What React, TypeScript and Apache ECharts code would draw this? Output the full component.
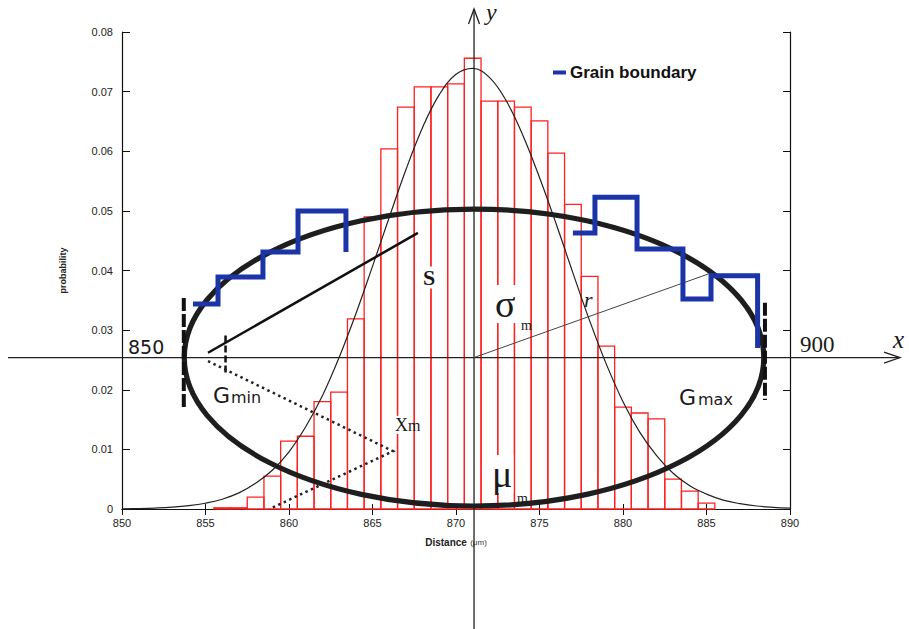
import React, { useEffect, useRef } from 'react';
import * as echarts from 'echarts';

// Axis ranges
const xMin = 850;
const xMax = 890;
const xStep = 5;
const yMin = 0;
const yMax = 0.08;
const yStep = 0.01;

// Histogram bins (unit width, centred on each distance)
const binCenters = [856, 857, 858, 859, 860, 861, 862, 863, 864, 865, 866, 867, 868, 869, 870, 871, 872, 873, 874, 875, 876, 877, 878, 879, 880, 881, 882, 883, 884, 885];
const binValues = [0.0002, 0.0002, 0.002, 0.0055, 0.0114, 0.0122, 0.018, 0.0196, 0.0319, 0.049, 0.0604, 0.0674, 0.0708, 0.0708, 0.0713, 0.0756, 0.0684, 0.0684, 0.0674, 0.0651, 0.0597, 0.0511, 0.039, 0.0273, 0.0171, 0.0161, 0.0151, 0.005, 0.003, 0.001];

// Fitted probability curve
const curveX = [850, 851, 852, 853, 854, 855, 856, 857, 858, 859, 860, 861, 862, 863, 864, 865, 866, 867, 868, 869, 870, 871, 872, 873, 874, 875, 876, 877, 878, 879, 880, 881, 882, 883, 884, 885, 886, 887, 888, 889, 890];
const curveY = [0.00004, 0.00008, 0.00016, 0.0003, 0.00055, 0.00097, 0.00164, 0.0027, 0.0043, 0.0065, 0.0096, 0.0138, 0.019, 0.0254, 0.0327, 0.0407, 0.0489, 0.0569, 0.064, 0.0695, 0.0729, 0.0739, 0.0724, 0.0685, 0.0627, 0.0556, 0.0478, 0.0396, 0.0316, 0.0243, 0.018, 0.0129, 0.009, 0.006, 0.0039, 0.0025, 0.0015, 0.0009, 0.0005, 0.00028, 0.00014];

// Grain boundary steps (corner points, horizontal first)
const grainLeftX = [854.25, 855.75, 858.44, 860.54, 863.41];
const grainLeftY = [0.0344, 0.0389, 0.0431, 0.05, 0.0431];
const grainRightX = [877.0, 878.32, 880.84, 883.59, 885.27, 888.06];
const grainRightY = [0.0463, 0.0523, 0.0436, 0.0352, 0.0391, 0.027];

// Schematic annotations in data units
const ellipseCenter = [871.08, 0.0254];
const ellipseRadius = [17.35, 0.0249];
const gMinBar = [[853.7, 0.0354], [853.7, 0.0166]];
const gMaxBar = [[888.5, 0.0346], [888.5, 0.0183]];
const sLine = [[855.15, 0.0262], [867.72, 0.0463]];
const sTick = [[856.2, 0.0291], [856.2, 0.0227]];
const xmPath = [[855.15, 0.0248], [866.23, 0.0097], [858.98, 0.0002]];
const rLineEnd = [885.09, 0.0394];

const BLUE = '#1b35a8';
const SERIF = '"Liberation Serif", serif';
const SANS = '"DejaVu Sans", sans-serif';

type TextSpec = { t: string; x: number; base: number; size: number; style?: string; family: string; bg?: boolean; lh?: number };

const labels: TextSpec[] = [
  { t: '850', x: 128, base: 353, size: 19, family: SANS },
  { t: '900', x: 800, base: 352, size: 23, family: SERIF },
  { t: 'x', x: 893, base: 348, size: 25, style: 'italic', family: SERIF },
  { t: 'y', x: 486, base: 20, size: 24, style: 'italic', family: SERIF, lh: 19 },
  { t: 'S', x: 422, base: 285, size: 22, style: 'bold', family: SERIF, bg: true },
  { t: 'σ', x: 494, base: 317, size: 38, family: SERIF, bg: true },
  { t: 'm', x: 521, base: 330, size: 14, family: SERIF },
  { t: 'r', x: 584, base: 307, size: 22, style: 'italic', family: SERIF },
  { t: 'G', x: 213, base: 403, size: 22, family: SANS },
  { t: 'min', x: 231, base: 403, size: 16, family: SANS },
  { t: 'G', x: 679, base: 405, size: 22, family: SANS },
  { t: 'max', x: 698, base: 405, size: 16, family: SANS },
  { t: 'X', x: 394, base: 431, size: 18, family: SERIF, bg: true },
  { t: 'm', x: 408, base: 431, size: 16, family: SERIF },
  { t: 'μ', x: 491, base: 487, size: 38, family: SERIF, bg: true },
  { t: 'm', x: 517, base: 503, size: 14, family: SERIF },
];

export default function App() {
  const ref = useRef<HTMLDivElement>(null);

  useEffect(() => {
    if (!ref.current) return;
    const chart = echarts.init(ref.current, undefined, { renderer: 'svg' });

    const axisLine = { show: true, lineStyle: { color: '#111', width: 1.2 } };
    const labelStyle = { fontFamily: '"Liberation Sans", Arial, sans-serif', fontSize: 11, color: '#222' };

    chart.setOption({
      animation: false,
      backgroundColor: '#fff',
      grid: { left: 122, top: 32, width: 668, height: 477 },
      legend: {
        left: 553,
        top: 64,
        padding: 0,
        icon: 'rect',
        itemWidth: 13,
        itemHeight: 4,
        data: ['Grain boundary'],
        textStyle: { fontFamily: '"Liberation Sans", Arial, sans-serif', fontWeight: 'bold', fontSize: 17, color: '#111', padding: [0, 0, 0, -1] },
      },
      xAxis: [
        {
          type: 'value', min: xMin, max: xMax, interval: xStep, position: 'bottom',
          axisLine, splitLine: { show: false },
          axisTick: { inside: true, length: 5, lineStyle: { color: '#111' } },
          axisLabel: { ...labelStyle, margin: 8 },
          name: '{a|Distance} {b|(μm)}',
          nameLocation: 'middle',
          nameGap: 27,
          nameTextStyle: {
            rich: {
              a: { fontFamily: '"Liberation Sans", Arial, sans-serif', fontWeight: 'bold', fontSize: 10, color: '#222' },
              b: { fontFamily: '"Liberation Sans", Arial, sans-serif', fontSize: 8, color: '#333' },
            },
          },
        },
        {
          type: 'value', min: xMin, max: xMax, interval: xStep, position: 'top',
          axisLine, splitLine: { show: false },
          axisTick: { inside: true, length: 6, lineStyle: { color: '#111' } },
          axisLabel: { show: false },
        },
      ],
      yAxis: [
        {
          type: 'value', min: yMin, max: yMax, interval: yStep, position: 'left',
          axisLine, splitLine: { show: false },
          axisTick: { inside: true, length: 8, lineStyle: { color: '#111' } },
          axisLabel: { ...labelStyle, margin: 9, formatter: (v: number) => (v === 0 ? '0' : v.toFixed(2)) },
          name: 'probability',
          nameLocation: 'middle',
          nameRotate: 90,
          nameGap: 55,
          nameTextStyle: { fontFamily: '"Liberation Sans", Arial, sans-serif', fontWeight: 'bold', fontSize: 9, color: '#222' },
        },
        {
          type: 'value', min: yMin, max: yMax, interval: yStep, position: 'right',
          axisLine, splitLine: { show: false },
          axisTick: { inside: true, length: 7, lineStyle: { color: '#111' } },
          axisLabel: { show: false },
        },
      ],
      series: [
        {
          type: 'custom',
          name: 'histogram',
          encode: { x: 0, y: 1 },
          data: binCenters.map((c, i) => [c, binValues[i]]),
          z: 2,
          renderItem: (_params: any, api: any) => {
            const c = api.value(0);
            const v = api.value(1);
            const p0 = api.coord([c - 0.5, v]);
            const p1 = api.coord([c + 0.5, 0]);
            return {
              type: 'rect',
              shape: { x: p0[0], y: p0[1], width: p1[0] - p0[0], height: p1[1] - p0[1] },
              style: { fill: 'none', stroke: '#ff2020', lineWidth: 1.3 },
            };
          },
        },
        {
          type: 'line',
          name: 'curve',
          data: curveX.map((x, i) => [x, curveY[i]]),
          smooth: 0.4,
          symbol: 'none',
          z: 2,
          lineStyle: { color: '#222', width: 1.2 },
        },
        {
          type: 'line',
          name: 'Grain boundary',
          data: grainLeftX.map((x, i) => [x, grainLeftY[i]]),
          step: 'end',
          symbol: 'none',
          z: 5,
          color: BLUE,
          lineStyle: { color: BLUE, width: 5, cap: 'butt', join: 'miter' },
        },
        {
          type: 'line',
          name: 'Grain boundary',
          data: grainRightX.map((x, i) => [x, grainRightY[i]]),
          step: 'end',
          symbol: 'none',
          z: 5,
          color: BLUE,
          lineStyle: { color: BLUE, width: 5, cap: 'butt', join: 'miter' },
        },
      ],
    });

    const toPx = (p: number[]) => chart.convertToPixel({ seriesIndex: 0 }, p) as number[];
    const c = toPx(ellipseCenter);
    const rx = toPx([ellipseCenter[0] + ellipseRadius[0], ellipseCenter[1]])[0] - c[0];
    const ry = c[1] - toPx([ellipseCenter[0], ellipseCenter[1] + ellipseRadius[1]])[1];
    const seg = (pts: number[][], style: any, z = 4) => {
      const a = toPx(pts[0]);
      const b = toPx(pts[1]);
      return { type: 'line', z, shape: { x1: a[0], y1: a[1], x2: b[0], y2: b[1] }, style };
    };
    const rEnd = toPx(rLineEnd);

    const graphic: any[] = [
      // crossing schematic axes
      { type: 'line', z: 4, shape: { x1: 8, y1: c[1], x2: 900, y2: c[1] }, style: { stroke: '#222', lineWidth: 1.3 } },
      { type: 'polyline', z: 4, shape: { points: [[884, c[1] - 5.5], [900, c[1]], [884, c[1] + 5.5]] }, style: { stroke: '#222', lineWidth: 1.3, fill: 'none' } },
      { type: 'line', z: 4, shape: { x1: c[0], y1: 9, x2: c[0], y2: 629 }, style: { stroke: '#222', lineWidth: 1.3 } },
      { type: 'polyline', z: 4, shape: { points: [[c[0] - 5.5, 24], [c[0], 9], [c[0] + 5.5, 24]] }, style: { stroke: '#222', lineWidth: 1.3, fill: 'none' } },
      // grain ellipse
      { type: 'ellipse', z: 3, shape: { cx: c[0], cy: c[1], rx, ry }, style: { fill: 'none', stroke: '#1e1e1e', lineWidth: 5.2 } },
      seg(gMinBar, { stroke: '#111', lineWidth: 4, lineDash: [13, 3] }),
      seg(gMaxBar, { stroke: '#111', lineWidth: 4, lineDash: [13, 3] }),
      seg(sLine, { stroke: '#111', lineWidth: 2.5 }),
      seg(sTick, { stroke: '#111', lineWidth: 2.5, lineDash: [7, 3] }),
      {
        type: 'polyline', z: 4,
        shape: { points: xmPath.map(toPx) },
        style: { stroke: '#222', lineWidth: 2.5, lineDash: [2.5, 3.5], fill: 'none' },
      },
      { type: 'line', z: 4, shape: { x1: c[0], y1: c[1], x2: rEnd[0], y2: rEnd[1] }, style: { stroke: '#444', lineWidth: 1 } },
    ];

    labels.forEach((l) => {
      graphic.push({
        type: 'text',
        z: 10,
        x: l.x,
        y: l.base - 0.34 * l.size,
        style: {
          text: l.t,
          font: `${l.style ? l.style + ' ' : ''}${l.size}px ${l.family}`,
          lineHeight: l.lh ?? l.size,
          fill: '#1a1a1a',
          align: 'left',
          verticalAlign: 'middle',
          backgroundColor: l.bg ? '#fff' : undefined,
          padding: l.bg ? [0, 1, 0, 1] : 0,
        },
      });
    });

    chart.setOption({ graphic });

    return () => chart.dispose();
  }, []);

  return <div ref={ref} style={{ position: 'fixed', left: 0, top: 0, width: 909, height: 629 }} />;
}
